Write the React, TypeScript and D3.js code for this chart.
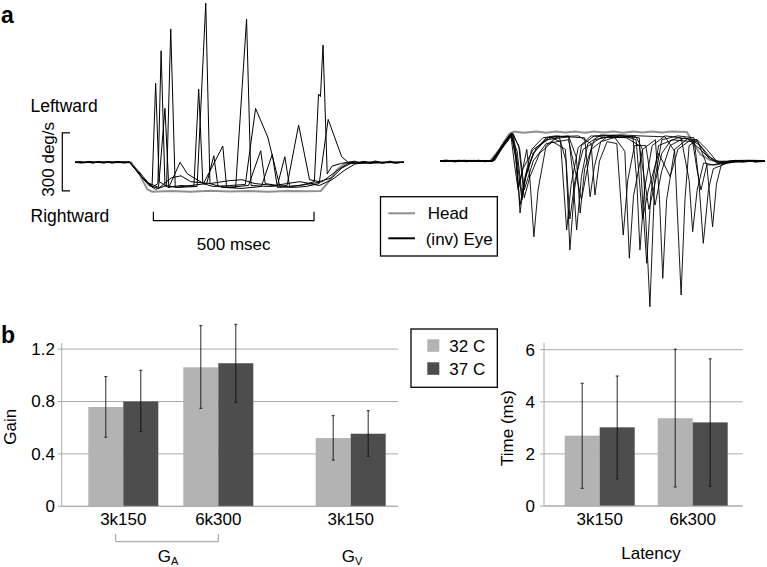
import React from "react";
import * as d3 from "d3";

type P = [number, number];

// ---------- Panel a: velocity traces (t in ms, v in deg/s) ----------
const headLeft: P[] = [[0,0],[60,1],[120,0],[175,0],[200,-60],[225,-140],[240,-152],[300,-148],[360,-152],[420,-147],[480,-151],[540,-149],[600,-152],[660,-148],[720,-150],[765,-148],[790,-100],[815,-40],[840,-5],[870,2],[940,0],[1024,1]];

const eyeLeft1: P[] = [[0,0],[15,4],[30,-3],[45,5],[60,-2],[75,4],[90,-4],[105,3],[120,-3],[135,4],[150,-2],[170,0],[200,-50],[230,-110],[240,-120],[251,409],[262,-100],[290,-130],[330,-120],[370,-125],[385,378],[398,-110],[430,-125],[480,-120],[530,-115],[562,279],[600,130],[638,-127],[680,-130],[720,-125],[760,-110],[788,222],[830,29],[850,0],[870,6],[885,-4],[900,5],[920,-6],[940,4],[960,-5],[980,6],[1000,-3],[1024,0]];
const eyeLeft2: P[] = [[0,1],[20,-4],[40,3],[55,-5],[70,2],[85,-3],[100,2],[115,-4],[130,3],[150,-3],[170,-1],[210,-80],[240,-130],[258,-110],[268,577],[280,-120],[320,-130],[380,-125],[407,823],[420,-110],[460,-130],[520,-135],[580,-125],[614,41],[630,-130],[700,-120],[745,-100],[758,353],[764,340],[772,607],[785,-60],[800,-20],[830,-5],[860,0],[880,-5],[895,4],[915,-3],[935,7],[955,-4],[975,3],[995,-5],[1024,1]];
const eyeLeft3: P[] = [[0,-1],[170,0],[215,-90],[250,-140],[285,-120],[298,690],[312,-130],[360,-120],[410,-110],[432,34],[445,-125],[500,-130],[534,741],[548,-120],[600,-125],[660,-120],[696,193],[730,-90],[760,-100],[800,-80],[830,-30],[860,-5],[1024,0]];
const eyeLeft4: P[] = [[0,0],[170,2],[220,-100],[260,-130],[280,279],[292,-130],[327,0],[350,-60],[400,-110],[460,84],[472,-130],[540,-120],[578,60],[592,-110],[630,-120],[653,29],[668,-125],[720,-115],[770,-100],[810,-50],[850,-5],[1024,0]];
const eyeLeft5: P[] = [[0,0],[170,0],[230,-120],[260,-135],[300,-80],[330,-70],[360,-100],[420,-110],[480,-95],[520,-90],[560,-110],[620,-120],[700,-100],[760,-120],[800,-90],[840,-40],[870,-10],[900,0],[1024,0]];

const headRight: P[] = [[0,0],[80,1],[156,0],[185,60],[215,140],[230,152],[260,146],[300,152],[330,146],[360,153],[390,147],[420,152],[450,146],[480,152],[510,147],[540,152],[570,146],[600,152],[630,147],[660,152],[690,147],[720,152],[768,150],[785,100],[810,35],[840,5],[870,-3],[900,-1],[960,2],[1011,0]];

const eyeRight1: P[] = [[0,0],[15,-4],[30,3],[45,-5],[60,-2],[75,4],[90,-3],[105,3],[120,1],[140,-4],[160,2],[190,60],[215,130],[228,140],[238,20],[249,-269],[262,-100],[285,60],[320,120],[360,130],[400,125],[412,-50],[425,-357],[440,-80],[460,90],[500,135],[560,130],[610,125],[630,60],[653,-754],[668,-100],[690,110],[740,130],[790,120],[805,-100],[819,-426],[835,-150],[850,-40],[880,-20],[900,-6],[920,4],[940,-5],[960,3],[980,-6],[1011,-2]];
const eyeRight2: P[] = [[0,1],[20,5],[40,-3],[60,4],[80,-4],[100,-1],[120,4],[140,-3],[165,0],[195,80],[220,140],[232,-20],[243,-150],[255,-60],[270,60],[280,-100],[292,-392],[305,-150],[330,80],[370,130],[392,0],[404,-460],[418,-150],[440,80],[480,130],[560,135],[620,130],[700,125],[730,50],[750,-693],[762,-200],[775,80],[800,110],[830,60],[860,0],[900,-10],[920,-2],[950,-5],[975,3],[1011,0]];
const eyeRight3: P[] = [[0,-1],[100,2],[165,1],[200,90],[225,145],[240,0],[255,-202],[270,-50],[300,70],[340,125],[375,100],[394,-357],[408,-120],[430,70],[470,130],[540,120],[600,125],[612,-100],[622,-460],[636,-150],[660,80],[700,130],[750,120],[775,-100],[786,-366],[800,-150],[820,-10],[850,-20],[880,-5],[930,3],[1011,0]];
const eyeRight4: P[] = [[0,0],[120,1],[165,3],[200,100],[222,145],[235,30],[249,-228],[262,-110],[290,40],[330,120],[400,130],[424,20],[436,-269],[450,-40],[480,110],[540,130],[575,50],[589,-503],[602,-180],[630,60],[670,110],[683,-200],[693,-607],[705,-200],[730,60],[770,115],[810,60],[840,10],[870,-15],[920,-5],[1011,1]];
const eyeRight5: P[] = [[0,2],[100,0],[160,1],[195,85],[220,138],[240,50],[255,-176],[268,-70],[290,40],[330,110],[400,125],[450,120],[467,-185],[480,-30],[500,100],[560,130],[620,120],[630,-200],[643,-529],[656,-170],[680,80],[740,120],[800,110],[830,-20],[848,-341],[860,-120],[875,-20],[910,0],[960,-3],[1011,0]];
const eyeRight6: P[] = [[0,-1],[100,1],[165,-2],[195,70],[222,135],[236,10],[243,-135],[258,-40],[290,60],[350,125],[430,130],[470,90],[482,-176],[496,0],[520,100],[550,90],[570,-383],[584,-100],[605,80],[640,80],[669,-228],[690,-50],[716,80],[760,120],[800,100],[830,30],[860,-5],[920,0],[1011,1]];
const eyeRight7: P[] = [[0,0],[110,-1],[170,2],[205,100],[225,140],[245,80],[262,-190],[280,-80],[310,40],[350,100],[390,60],[404,-300],[420,-100],[445,60],[500,120],[570,130],[610,110],[630,-300],[648,-150],[680,40],[716,-81],[740,60],[780,110],[810,80],[840,20],[870,-10],[910,-5],[1011,0]];
const eyeRight8: P[] = [[0,1],[100,0],[160,-1],[200,80],[228,140],[248,60],[262,-150],[290,0],[330,90],[400,110],[440,-200],[470,60],[520,125],[580,120],[620,80],[650,-250],[690,40],[720,110],[786,100],[800,-50],[812,-150],[830,-20],[860,-20],[900,0],[1011,0]];

const eyeLeftTraces = [eyeLeft1, eyeLeft2, eyeLeft3, eyeLeft4, eyeLeft5];
const eyeRightTraces = [eyeRight1, eyeRight2, eyeRight3, eyeRight4, eyeRight5, eyeRight6, eyeRight7, eyeRight8];

const velocityBar = [-150, 150]; // 300 deg/s scale bar
const timeBar = [244, 744]; // 500 msec scale bar

// ---------- Panel b: gain ----------
const gainCategories = ["3k150", "6k300", "3k150"];
const gain32 = [0.758, 1.061, 0.521];
const gain37 = [0.8, 1.092, 0.554];
const gain32Lo = [0.527, 0.748, 0.353];
const gain32Hi = [0.99, 1.379, 0.692];
const gain37Lo = [0.57, 0.794, 0.382];
const gain37Hi = [1.038, 1.389, 0.73];
const gainTicks = [0, 0.4, 0.8, 1.2];
const gainTickLabels = ["0", "0.4", "0.8", "1.2"];

// ---------- Panel b: latency ----------
const latencyCategories = ["3k150", "6k300"];
const latency32 = [2.7, 3.37];
const latency37 = [3.02, 3.21];
const latency32Lo = [0.68, 0.73];
const latency32Hi = [4.71, 6.02];
const latency37Lo = [1.04, 0.76];
const latency37Hi = [4.99, 5.65];
const timeTicks = [0, 2, 4, 6];
const timeTickLabels = ["0", "2", "4", "6"];

const seriesNames = ["32 C", "37 C"];
const LIGHT = "#b3b3b3";
const DARK = "#4d4d4d";
const GRID = "#aaaaaa";
const FONT = "'Liberation Sans', Arial, Helvetica, sans-serif";

export default function App() {
  // panel a scales
  const xL = d3.scaleLinear().domain([0, 1024]).range([75, 404]);
  const xR = d3.scaleLinear().domain([0, 1011]).range([440, 765]);
  const yL = d3.scaleLinear().domain([-300, 300]).range([162.3 + 58, 162.3 - 58]);
  const yR = d3.scaleLinear().domain([-300, 300]).range([161 + 58, 161 - 58]);
  const lineL = d3.line<P>().x((d) => xL(d[0])).y((d) => yL(d[1]));
  const lineR = d3.line<P>().x((d) => xR(d[0])).y((d) => yR(d[1]));
  // scale-bar placement (vertical offset of the bar relative to trace baseline)
  const barShift = -29.5;
  const barTop = yL(velocityBar[1]) + barShift + 29.5 - 0.5;
  const barBot = yL(velocityBar[0]) + barShift + 29.5 - 0.5;

  // gain chart scales
  const yG = d3.scaleLinear().domain([0, 1.2]).range([506.3, 349.1]);
  const xG = d3.scaleOrdinal<number, number>().domain([0, 1, 2]).range([123.3, 218.3, 350.7]);
  const barW = 35;

  // latency chart
  const yT = d3.scaleLinear().domain([0, 6]).range([506, 349.7]);
  const xT = d3.scaleOrdinal<number, number>().domain([0, 1]).range([599.7, 692.7]);

  const errBar = (x: number, lo: number, hi: number, key: string) => (
    <g key={key} stroke="#111" strokeWidth={0.9}>
      <line x1={x} x2={x} y1={lo} y2={hi} />
      <line x1={x - 1.5} x2={x + 1.5} y1={lo} y2={lo} />
      <line x1={x - 1.5} x2={x + 1.5} y1={hi} y2={hi} />
    </g>
  );

  return (
    <svg
      width={767}
      height={567}
      style={{ position: "absolute", left: 0, top: 0, background: "#fff" }}
      fontFamily={FONT}
    >
      {/* ===== Panel a ===== */}
      <text x={1} y={23} fontSize={23} fontWeight="bold">a</text>

      {/* left: traces */}
      <path d={lineL(headLeft) || ""} fill="none" stroke="#8f8f8f" strokeWidth={2} />
      {eyeLeftTraces.map((tr, i) => (
        <path key={"el" + i} d={lineL(tr) || ""} fill="none" stroke="#000" strokeWidth={1} strokeLinejoin="round" />
      ))}

      {/* right: traces */}
      <path d={lineR(headRight) || ""} fill="none" stroke="#8f8f8f" strokeWidth={2} />
      {eyeRightTraces.map((tr, i) => (
        <path key={"er" + i} d={lineR(tr) || ""} fill="none" stroke="#000" strokeWidth={0.9} strokeLinejoin="round" />
      ))}

      {/* velocity scale bar */}
      <path d={`M70,${barTop}H62.3V${barBot}H70`} stroke="#000" strokeWidth={1.2} fill="none" />
      <text x={30.5} y={111.7} fontSize={17.5}>Leftward</text>
      <text x={30.5} y={221.7} fontSize={17.5}>Rightward</text>
      <text transform={`translate(53.5,${(barTop + barBot) / 2 - 2.5}) rotate(-90)`} textAnchor="middle" fontSize={17}>300 deg/s</text>

      {/* time scale bar */}
      <path d={`M${xL(timeBar[0])},211.7V220.7H${xL(timeBar[1])}V211.7`} stroke="#000" strokeWidth={1.2} fill="none" />
      <text x={(xL(timeBar[0]) + xL(timeBar[1])) / 2} y={250} textAnchor="middle" fontSize={17}>500 msec</text>

      {/* legend a */}
      <rect x={380.5} y={196.7} width={116.8} height={59.3} fill="#fff" stroke="#000" strokeWidth={1.3} />
      <line x1={388.3} x2={415} y1={213.3} y2={213.3} stroke="#8f8f8f" strokeWidth={2} />
      <text x={427.7} y={219.3} fontSize={17}>Head</text>
      <line x1={388.3} x2={415} y1={238.3} y2={238.3} stroke="#000" strokeWidth={2} />
      <text x={425.7} y={244.5} fontSize={17}>(inv) Eye</text>

      {/* ===== Panel b ===== */}
      <text x={1} y={343} fontSize={23} fontWeight="bold">b</text>

      {/* gain chart */}
      {gainTicks.map((t, i) => (
        <g key={"gt" + i}>
          <line x1={58} x2={398} y1={yG(t)} y2={yG(t)} stroke={GRID} strokeWidth={1} />
          <text x={55} y={yG(t)} dy="0.35em" textAnchor="end" fontSize={17}>{gainTickLabels[i]}</text>
        </g>
      ))}
      <line x1={61.7} x2={61.7} y1={343} y2={yG(0)} stroke={GRID} strokeWidth={1} />
      {gainCategories.map((c, i) => (
        <g key={"gb" + i}>
          <rect x={xG(i) - barW} y={yG(gain32[i])} width={barW} height={yG(0) - yG(gain32[i])} fill={LIGHT} />
          <rect x={xG(i)} y={yG(gain37[i])} width={barW} height={yG(0) - yG(gain37[i])} fill={DARK} />
          <text x={xG(i)} y={525} textAnchor="middle" fontSize={17}>{c}</text>
        </g>
      ))}
      <line x1={61.7} x2={398} y1={yG(0)} y2={yG(0)} stroke={GRID} strokeWidth={1} />
      {gainCategories.map((c, i) => (
        <g key={"ge" + i}>
          {errBar(xG(i) - barW / 2, yG(gain32Lo[i]), yG(gain32Hi[i]), "a")}
          {errBar(xG(i) + barW / 2, yG(gain37Lo[i]), yG(gain37Hi[i]), "b")}
        </g>
      ))}
      <path d={`M115.7,534V541.7H218.3V534`} stroke="#999" strokeWidth={1} fill="none" />
      <text x={168} y={562} textAnchor="middle" fontSize={17}>
        G<tspan fontSize={11} dy={3}>A</tspan>
      </text>
      <text x={352} y={562} textAnchor="middle" fontSize={17}>
        G<tspan fontSize={11} dy={3}>V</tspan>
      </text>
      <text transform="translate(15.5,426.7) rotate(-90)" textAnchor="middle" fontSize={17}>Gain</text>

      {/* legend b */}
      <rect x={411} y={329} width={86.3} height={58.3} fill="#fff" stroke="#000" strokeWidth={1.3} />
      {seriesNames.map((s, i) => (
        <g key={"lg" + i}>
          <rect x={427.3} y={339.3 + i * 23} width={12} height={12.5} fill={i === 0 ? LIGHT : DARK} />
          <text x={449.3} y={351.7 + i * 23} fontSize={17}>{s}</text>
        </g>
      ))}

      {/* latency chart */}
      {timeTicks.map((t, i) => (
        <g key={"tt" + i}>
          <line x1={540} x2={742.7} y1={yT(t)} y2={yT(t)} stroke={GRID} strokeWidth={1} />
          <text x={535} y={yT(t)} dy="0.35em" textAnchor="end" fontSize={17}>{timeTickLabels[i]}</text>
        </g>
      ))}
      <line x1={544} x2={544} y1={343} y2={yT(0)} stroke={GRID} strokeWidth={1} />
      {latencyCategories.map((c, i) => (
        <g key={"tb" + i}>
          <rect x={xT(i) - barW} y={yT(latency32[i])} width={barW} height={yT(0) - yT(latency32[i])} fill={LIGHT} />
          <rect x={xT(i)} y={yT(latency37[i])} width={barW} height={yT(0) - yT(latency37[i])} fill={DARK} />
          <text x={xT(i)} y={525} textAnchor="middle" fontSize={17}>{c}</text>
        </g>
      ))}
      <line x1={544} x2={742.7} y1={yT(0)} y2={yT(0)} stroke={GRID} strokeWidth={1} />
      {latencyCategories.map((c, i) => (
        <g key={"te" + i}>
          {errBar(xT(i) - barW / 2, yT(latency32Lo[i]), yT(latency32Hi[i]), "a")}
          {errBar(xT(i) + barW / 2, yT(latency37Lo[i]), yT(latency37Hi[i]), "b")}
        </g>
      ))}
      <text x={651} y={559} textAnchor="middle" fontSize={17}>Latency</text>
      <text transform="translate(512.5,428) rotate(-90)" textAnchor="middle" fontSize={17}>Time (ms)</text>
    </svg>
  );
}
